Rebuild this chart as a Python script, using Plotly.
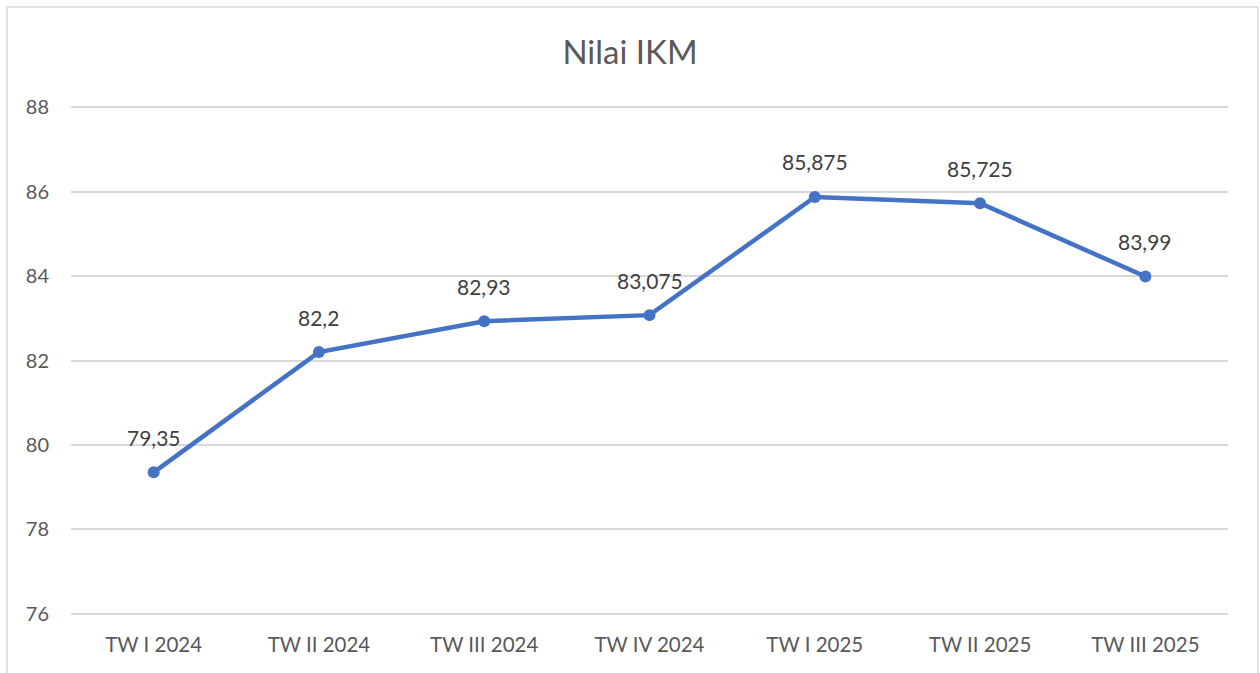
import plotly.graph_objects as go

categories = ["TW I 2024", "TW II 2024", "TW III 2024", "TW IV 2024", "TW I 2025", "TW II 2025", "TW III 2025"]
values = [79.35, 82.2, 82.93, 83.075, 85.875, 85.725, 83.99]
labels = ["79,35", "82,2", "82,93", "83,075", "85,875", "85,725", "83,99"]
y_ticks = [76, 78, 80, 82, 84, 86, 88]

W, H = 1260, 673
ml, mr, mt, mb = 71, 32, 106, 58
pw, ph = W - ml - mr, H - mt - mb

def px_x(x):
    return (x - ml) / pw

def px_y(y):
    return (H - mb - y) / ph

font_family = "Lato, 'Open Sans', sans-serif"

fig = go.Figure()
fig.add_trace(go.Scatter(
    x=categories, y=values, mode="lines+markers",
    line=dict(color="#4472C4", width=4.5),
    marker=dict(color="#4472C4", size=12),
    cliponaxis=False, hoverinfo="skip",
))

annotations = [dict(x=c, y=v, text=t, showarrow=False, yshift=35, xref="x", yref="y",
                    font=dict(size=21, color="#404040", family=font_family))
               for c, v, t in zip(categories, values, labels)]

fig.update_layout(
    width=W, height=H,
    margin=dict(l=ml, r=mr, t=mt, b=mb),
    paper_bgcolor="white", plot_bgcolor="white",
    showlegend=False,
    title=dict(text="Nilai IKM", x=0.5, xanchor="center", y=1 - 52 / H, yanchor="middle",
               font=dict(size=33, color="#595959", family=font_family)),
    font=dict(family=font_family, color="#595959"),
    xaxis=dict(type="category", range=[-0.5, 6.5], showgrid=False, zeroline=False,
               showline=False, ticks="", tickfont=dict(size=20.5, color="#595959"),
               ticklabelstandoff=15),
    yaxis=dict(range=[75.97, 88.03], tickvals=y_ticks, showgrid=True, gridcolor="#D9D9D9",
               gridwidth=1.5, zeroline=False, showline=False, ticks="",
               tickfont=dict(size=20, color="#595959"), ticklabelstandoff=21),
    annotations=annotations,
    shapes=[dict(type="rect", xref="paper", yref="paper",
                 x0=px_x(7), x1=px_x(1258), y0=px_y(700), y1=px_y(7),
                 line=dict(color="#D9D9D9", width=1.5), fillcolor="rgba(0,0,0,0)", layer="below")],
)

fig.write_html("out.html", config={"displayModeBar": False},
               post_script="document.body.style.margin='0';document.body.style.padding='0';")
